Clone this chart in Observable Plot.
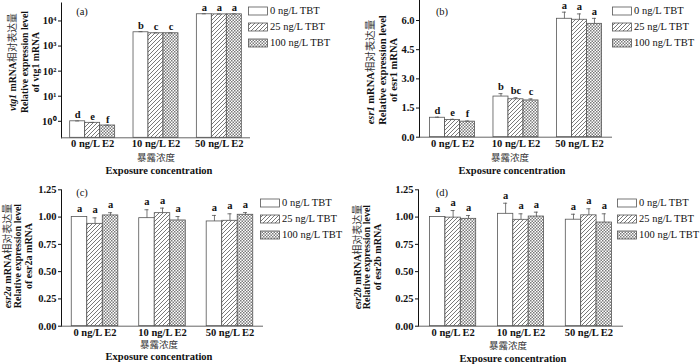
<!DOCTYPE html>
<html><head><meta charset="utf-8">
<script src="https://cdn.jsdelivr.net/npm/d3@7"></script>
<script src="https://cdn.jsdelivr.net/npm/@observablehq/plot@0.6"></script>
<style>
body{margin:0;background:#fff;}
#wrap{position:relative;width:700px;height:364px;overflow:hidden;font-family:"Liberation Serif","Noto Sans CJK SC",serif;color:#111;}
.panel{position:absolute;}
.lab{position:absolute;white-space:nowrap;line-height:1;}
.rot{transform:translate(-50%,-50%) rotate(-90deg);font-weight:bold;}
.ctr{transform:translate(-50%,-50%);}
.cn{font-family:"Noto Sans CJK SC",sans-serif;font-weight:normal;color:#333;}
.leg{position:absolute;font-size:10.5px;}
.row{position:absolute;display:flex;align-items:center;white-space:nowrap;}
.row svg{margin-right:2px;}
</style>
</head><body>
<svg width="0" height="0" style="position:absolute">
<defs>
<pattern id="hatch" patternUnits="userSpaceOnUse" width="4" height="4"><rect width="4" height="4" fill="white"/><path d="M-1,1 l2,-2 M0,4 l4,-4 M3,5 l2,-2" stroke="#6a6a6a" stroke-width="0.9"/></pattern>
<pattern id="check" patternUnits="userSpaceOnUse" width="3" height="3"><rect width="3" height="3" fill="white"/><rect width="1.5" height="1.5" fill="#7a7a7a"/><rect x="1.5" y="1.5" width="1.5" height="1.5" fill="#7a7a7a"/></pattern>
</defs></svg>
<div id="wrap"></div>
<script>
// ---- data ----
const e2Levels = ["0 ng/L E2", "10 ng/L E2", "50 ng/L E2"];
const tbtLevels = ["0 ng/L TBT", "25 ng/L TBT", "100 ng/L TBT"];
const tbtFills = ["white", "url(#hatch)", "url(#check)"];

const vtg1Mean = [1.0, 0.87, 0.68, 3540, 3230, 3230, 18500, 18300, 18400];
const vtg1Err  = [0.03, 0.03, 0.02, 200, 100, 100, 800, 500, 600];
const vtg1Sig  = ["d","e","f","b","c","c","a","a","a"];
const vtg1Ticks = [1, 10, 100, 1000, 10000];

const esr1Mean = [1.0, 0.88, 0.80, 2.09, 1.95, 1.89, 6.09, 6.04, 5.83];
const esr1Err  = [0.03, 0.04, 0.03, 0.15, 0.08, 0.08, 0.34, 0.30, 0.28];
const esr1Sig  = ["d","e","f","b","bc","c","a","a","a"];
const esr1Ticks = [0, 1.5, 3.0, 4.5, 6.0];

const esr2aMean = [1.0, 0.938, 1.015, 0.99, 1.036, 0.969, 0.96, 0.966, 1.021];
const esr2aErr  = [0.0, 0.055, 0.025, 0.077, 0.046, 0.036, 0.055, 0.064, 0.02];
const esr2aSig  = ["a","a","a","a","a","a","a","a","a"];

const esr2bMean = [1.0, 0.995, 0.984, 1.03, 0.975, 1.005, 0.976, 1.016, 0.95];
const esr2bErr  = [0.0, 0.065, 0.03, 0.097, 0.055, 0.04, 0.05, 0.06, 0.08];
const esr2bSig  = ["a","a","a","a","a","a","a","a","a"];
const esr2Ticks = [0, 0.25, 0.5, 0.75, 1.0, 1.25];

const sup = {0:"⁰",1:"¹",2:"²",3:"³",4:"⁴"};
const wrap = document.getElementById("wrap");

function makePanel(o) {
  const data = [];
  e2Levels.forEach((g, i) => tbtLevels.forEach((t, j) => {
    const k = i * 3 + j;
    data.push({g, t, j, v: o.mean[k], e: o.err[k], s: o.sig[k]});
  }));
  const plotW = o.W - o.mL - o.mR;
  const step = plotW / (3 - o.pi + 2 * o.po);
  const sub = step * (1 - o.pi) / 3;
  const marks = [];
  tbtLevels.forEach((t, j) => {
    const d = data.filter(r => r.j === j);
    marks.push(Plot.barY(d, {x: "g", y1: o.domain[0], y2: "v", fill: tbtFills[j], stroke: "#555", strokeWidth: 0.8,
      insetLeft: j * sub, insetRight: (2 - j) * sub}));
    marks.push(Plot.ruleX(d, {x: "g", y1: "v", y2: r => r.v + r.e, dx: (j - 1) * sub, stroke: "#555", strokeWidth: 0.8}));
    marks.push(Plot.tickY(d.filter(r => r.e > 0), {x: "g", y: r => r.v + r.e, stroke: "#555", strokeWidth: 0.8,
      insetLeft: j * sub + sub / 2 - 2, insetRight: (2 - j) * sub + sub / 2 - 2}));
    marks.push(Plot.text(d, {x: "g", y: r => r.v + r.e, text: "s", dx: (j - 1) * sub, dy: o.letterDy,
      fontWeight: "bold", fontSize: 10.5, fill: "#111"}));
  });
  marks.push(Plot.ruleY([o.domain[0]], {stroke: "#555", strokeWidth: 0.9}));
  const svg = Plot.plot({
    width: o.W, height: o.H,
    marginLeft: o.mL, marginRight: o.mR, marginTop: o.mT, marginBottom: o.mB,
    style: {fontFamily: "Liberation Serif, serif", fontSize: "10.5px", fontWeight: "bold", color: "#111", background: "transparent", overflow: "visible"},
    x: {domain: e2Levels, paddingInner: o.pi, paddingOuter: o.po, align: 0.5, round: false, tickSize: 0, tickPadding: o.xPad, label: null},
    y: {type: o.type, domain: o.domain, ticks: o.ticks, tickFormat: o.fmt, tickSize: 3, tickPadding: 2, line: true, label: null},
    marks
  });
  const div = document.createElement("div");
  div.className = "panel";
  div.style.left = o.left + "px";
  div.style.top = o.top + "px";
  div.appendChild(svg);
  wrap.appendChild(div);
}

function addLabel(html, x, y, cls, size) {
  const d = document.createElement("div");
  d.className = "lab " + cls;
  d.style.left = x + "px"; d.style.top = y + "px";
  d.style.fontSize = size + "px";
  d.innerHTML = html;
  wrap.appendChild(d);
}

function addLegend(x, y) {
  tbtLevels.forEach((t, j) => {
    const r = document.createElement("div");
    r.className = "row leg";
    r.style.left = x + "px"; r.style.top = (y + j * 16) + "px";
    r.innerHTML = `<svg width="20" height="10"><rect x="0.5" y="1" width="19" height="8" fill="${tbtFills[j]}" stroke="#555" stroke-width="0.8"/></svg><span>${t}</span>`;
    wrap.appendChild(r);
  });
}

// (a)
makePanel({mean: vtg1Mean, err: vtg1Err, sig: vtg1Sig, type: "log", domain: [0.22, 52000], ticks: vtg1Ticks,
  fmt: d => "10" + sup[Math.round(Math.log10(d))],
  left: 0, top: 0, W: 262, H: 180, mL: 61, mR: 12, mT: 2.5, mB: 42.7, pi: 0.29, po: 0.137, xPad: 2, letterDy: -6});
// (b)
makePanel({mean: esr1Mean, err: esr1Err, sig: esr1Sig, type: "linear", domain: [0, 7.03], ticks: esr1Ticks,
  fmt: d => d.toFixed(1),
  left: 395, top: 0, W: 218, H: 180, mL: 24, mR: 1, mT: 0, mB: 43.3, pi: 0.29, po: 0.166, xPad: 2, letterDy: -7});
// (c)
makePanel({mean: esr2aMean, err: esr2aErr, sig: esr2aSig, type: "linear", domain: [0, 1.25], ticks: esr2Ticks,
  fmt: d => d.toFixed(2),
  left: 0, top: 180, W: 263, H: 184, mL: 61, mR: 0, mT: 9.3, mB: 38.3, pi: 0.31, po: 0.152, xPad: 2, letterDy: -8});
// (d)
makePanel({mean: esr2bMean, err: esr2bErr, sig: esr2bSig, type: "linear", domain: [0, 1.25], ticks: esr2Ticks,
  fmt: d => d.toFixed(2),
  left: 395, top: 180, W: 228, H: 184, mL: 23, mR: 0, mT: 9.3, mB: 38.3, pi: 0.32, po: 0.17, xPad: 2, letterDy: -8});

// panel tags
addLabel("(a)", 82, 12, "ctr", 10.5);
addLabel("(b)", 442, 12, "ctr", 10.5);
addLabel("(c)", 82, 193, "ctr", 10.5);
addLabel("(d)", 442, 193, "ctr", 10.5);

// y titles
addLabel('<i>vtg1</i> mRNA<span class="cn">相对表达量</span>', 13, 62, "rot", 9.8);
addLabel("Relative expression level", 25, 62, "rot", 9.8);
addLabel("of vtg1 mRNA", 36, 62, "rot", 9.8);
addLabel('<i>esr1</i> mRNA<span class="cn">相对表达量</span>', 371, 72, "rot", 10.5);
addLabel("Relative expression level", 383, 70, "rot", 10.5);
addLabel("of esr1 mRNA", 394, 70, "rot", 10.5);
addLabel('<i>esr2a</i> mRNA<span class="cn">相对表达量</span>', 7, 256, "rot", 10);
addLabel("Relative expression level", 18, 256, "rot", 10);
addLabel("of esr2a mRNA", 29, 256, "rot", 10);
addLabel('<i>esr2b</i> mRNA<span class="cn">相对表达量</span>', 357, 257, "rot", 10);
addLabel("Relative expression level", 367, 257, "rot", 10);
addLabel("of esr2b mRNA", 378, 257, "rot", 10);

// x titles
addLabel('<span class="cn">暴露浓度</span>', 156, 158, "ctr", 9.5);
addLabel("<b>Exposure concentration</b>", 159, 171, "ctr", 10.5);
addLabel('<span class="cn">暴露浓度</span>', 510, 158, "ctr", 9.5);
addLabel("<b>Exposure concentration</b>", 512, 171, "ctr", 10.5);
addLabel('<span class="cn">暴露浓度</span>', 159, 345, "ctr", 9.5);
addLabel("<b>Exposure concentration</b>", 159, 357, "ctr", 10.5);
addLabel('<span class="cn">暴露浓度</span>', 508, 346, "ctr", 9.5);
addLabel("<b>Exposure concentration</b>", 513, 358.5, "ctr", 10.5);

// legends
addLegend(248, 5);
addLegend(612, 5);
addLegend(260, 197);
addLegend(617, 197);
</script>
</body></html>
